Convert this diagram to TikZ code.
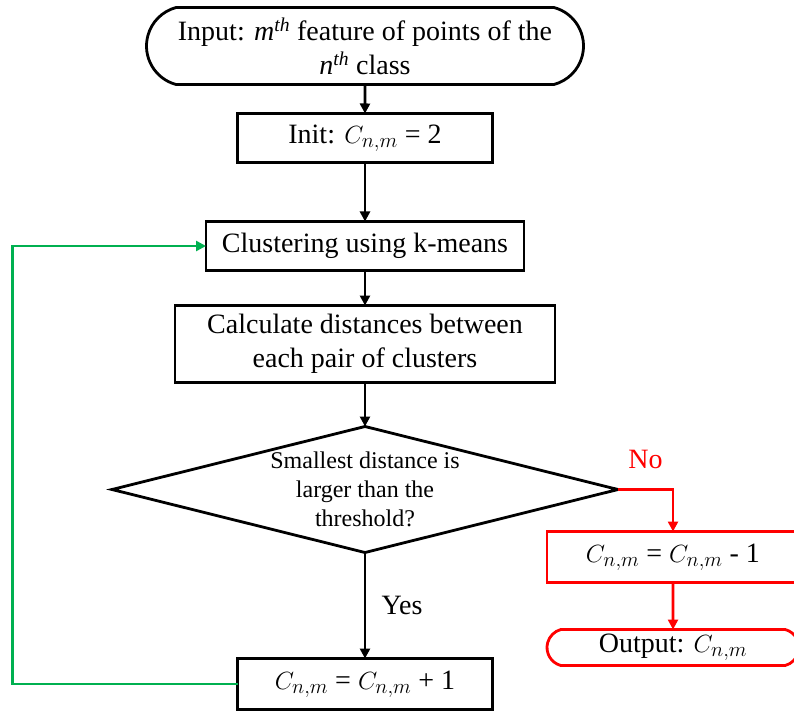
\documentclass[tikz,border=0pt]{standalone}
\usepackage{fontspec}
\setmainfont{Liberation Serif}
\usetikzlibrary{arrows.meta,positioning,shapes.geometric,shapes.misc}
\definecolor{loopgreen}{HTML}{00B050}
\definecolor{exitred}{HTML}{FF0000}

\begin{document}
\begin{tikzpicture}[x=1pt,y=-1pt,>={Triangle[length=10pt,width=10pt]},line width=2.8pt,
            txt/.style={font=\fontsize{28}{34}\selectfont},
            proc/.style={rectangle,draw,txt,align=center,inner sep=0pt,outer sep=0pt},
            term/.style={rounded rectangle,rounded rectangle arc length=150,draw,txt,
                         align=center,inner sep=0pt,outer sep=0pt},
            decide/.style={diamond,draw,aspect=4,align=center,inner sep=0pt,outer sep=0pt,
                           font=\fontsize{24}{29}\selectfont}]
          \useasboundingbox (0,0) rectangle (794,711);
          \node[term,minimum width=437pt,minimum height=77pt] (input) at (365,46)
               {Input: \textit{m}\textsuperscript{\textit{th}} feature of points of the\\
                \textit{n}\textsuperscript{\textit{th}} class};
          \node[proc,minimum width=255pt,minimum height=49pt,below=29pt of input] (init) {Init: $C_{n,m}$ = 2};
          \node[proc,minimum width=318pt,minimum height=49pt,below=59pt of init] (clust) {Clustering using k-means};
          \node[proc,minimum width=380pt,minimum height=77pt,below=35pt of clust] (dist)
               {Calculate distances between\\each pair of clusters};
          \node[decide,minimum width=506pt,minimum height=126pt,below=44pt of dist] (check)
               {Smallest distance is\\larger than the\\threshold?};
          \node[proc,minimum width=255pt,minimum height=51pt,below=106pt of check] (grow) {$C_{n,m}$ = $C_{n,m}$ + 1};
          \node[proc,draw=exitred,minimum width=252pt,minimum height=51pt,
                below=42pt of check.east,xshift=55pt] (shrink) {$C_{n,m}$ = $C_{n,m}$ - 1};
          \node[term,draw=exitred,minimum width=252pt,minimum height=36pt,below=47pt of shrink] (output)
               {Output: $C_{n,m}$};
          \draw[->] (input) -- (init);
          \draw[->] (init) -- (clust);
          \draw[->] (clust) -- (dist);
          \draw[->] (dist) -- (check);
          \draw[->] (check) -- node[right=12pt,txt] {Yes} (grow);
          \draw[->,exitred] (check.east) -| node[pos=0.25,above=16pt,txt] {No} (shrink);
          \draw[->,exitred] (shrink) -- (output);
          \draw[->,loopgreen,line width=2.5pt] (grow.west) -- ++(-225,0) |- (clust.west);
        \end{tikzpicture}
\end{document}
